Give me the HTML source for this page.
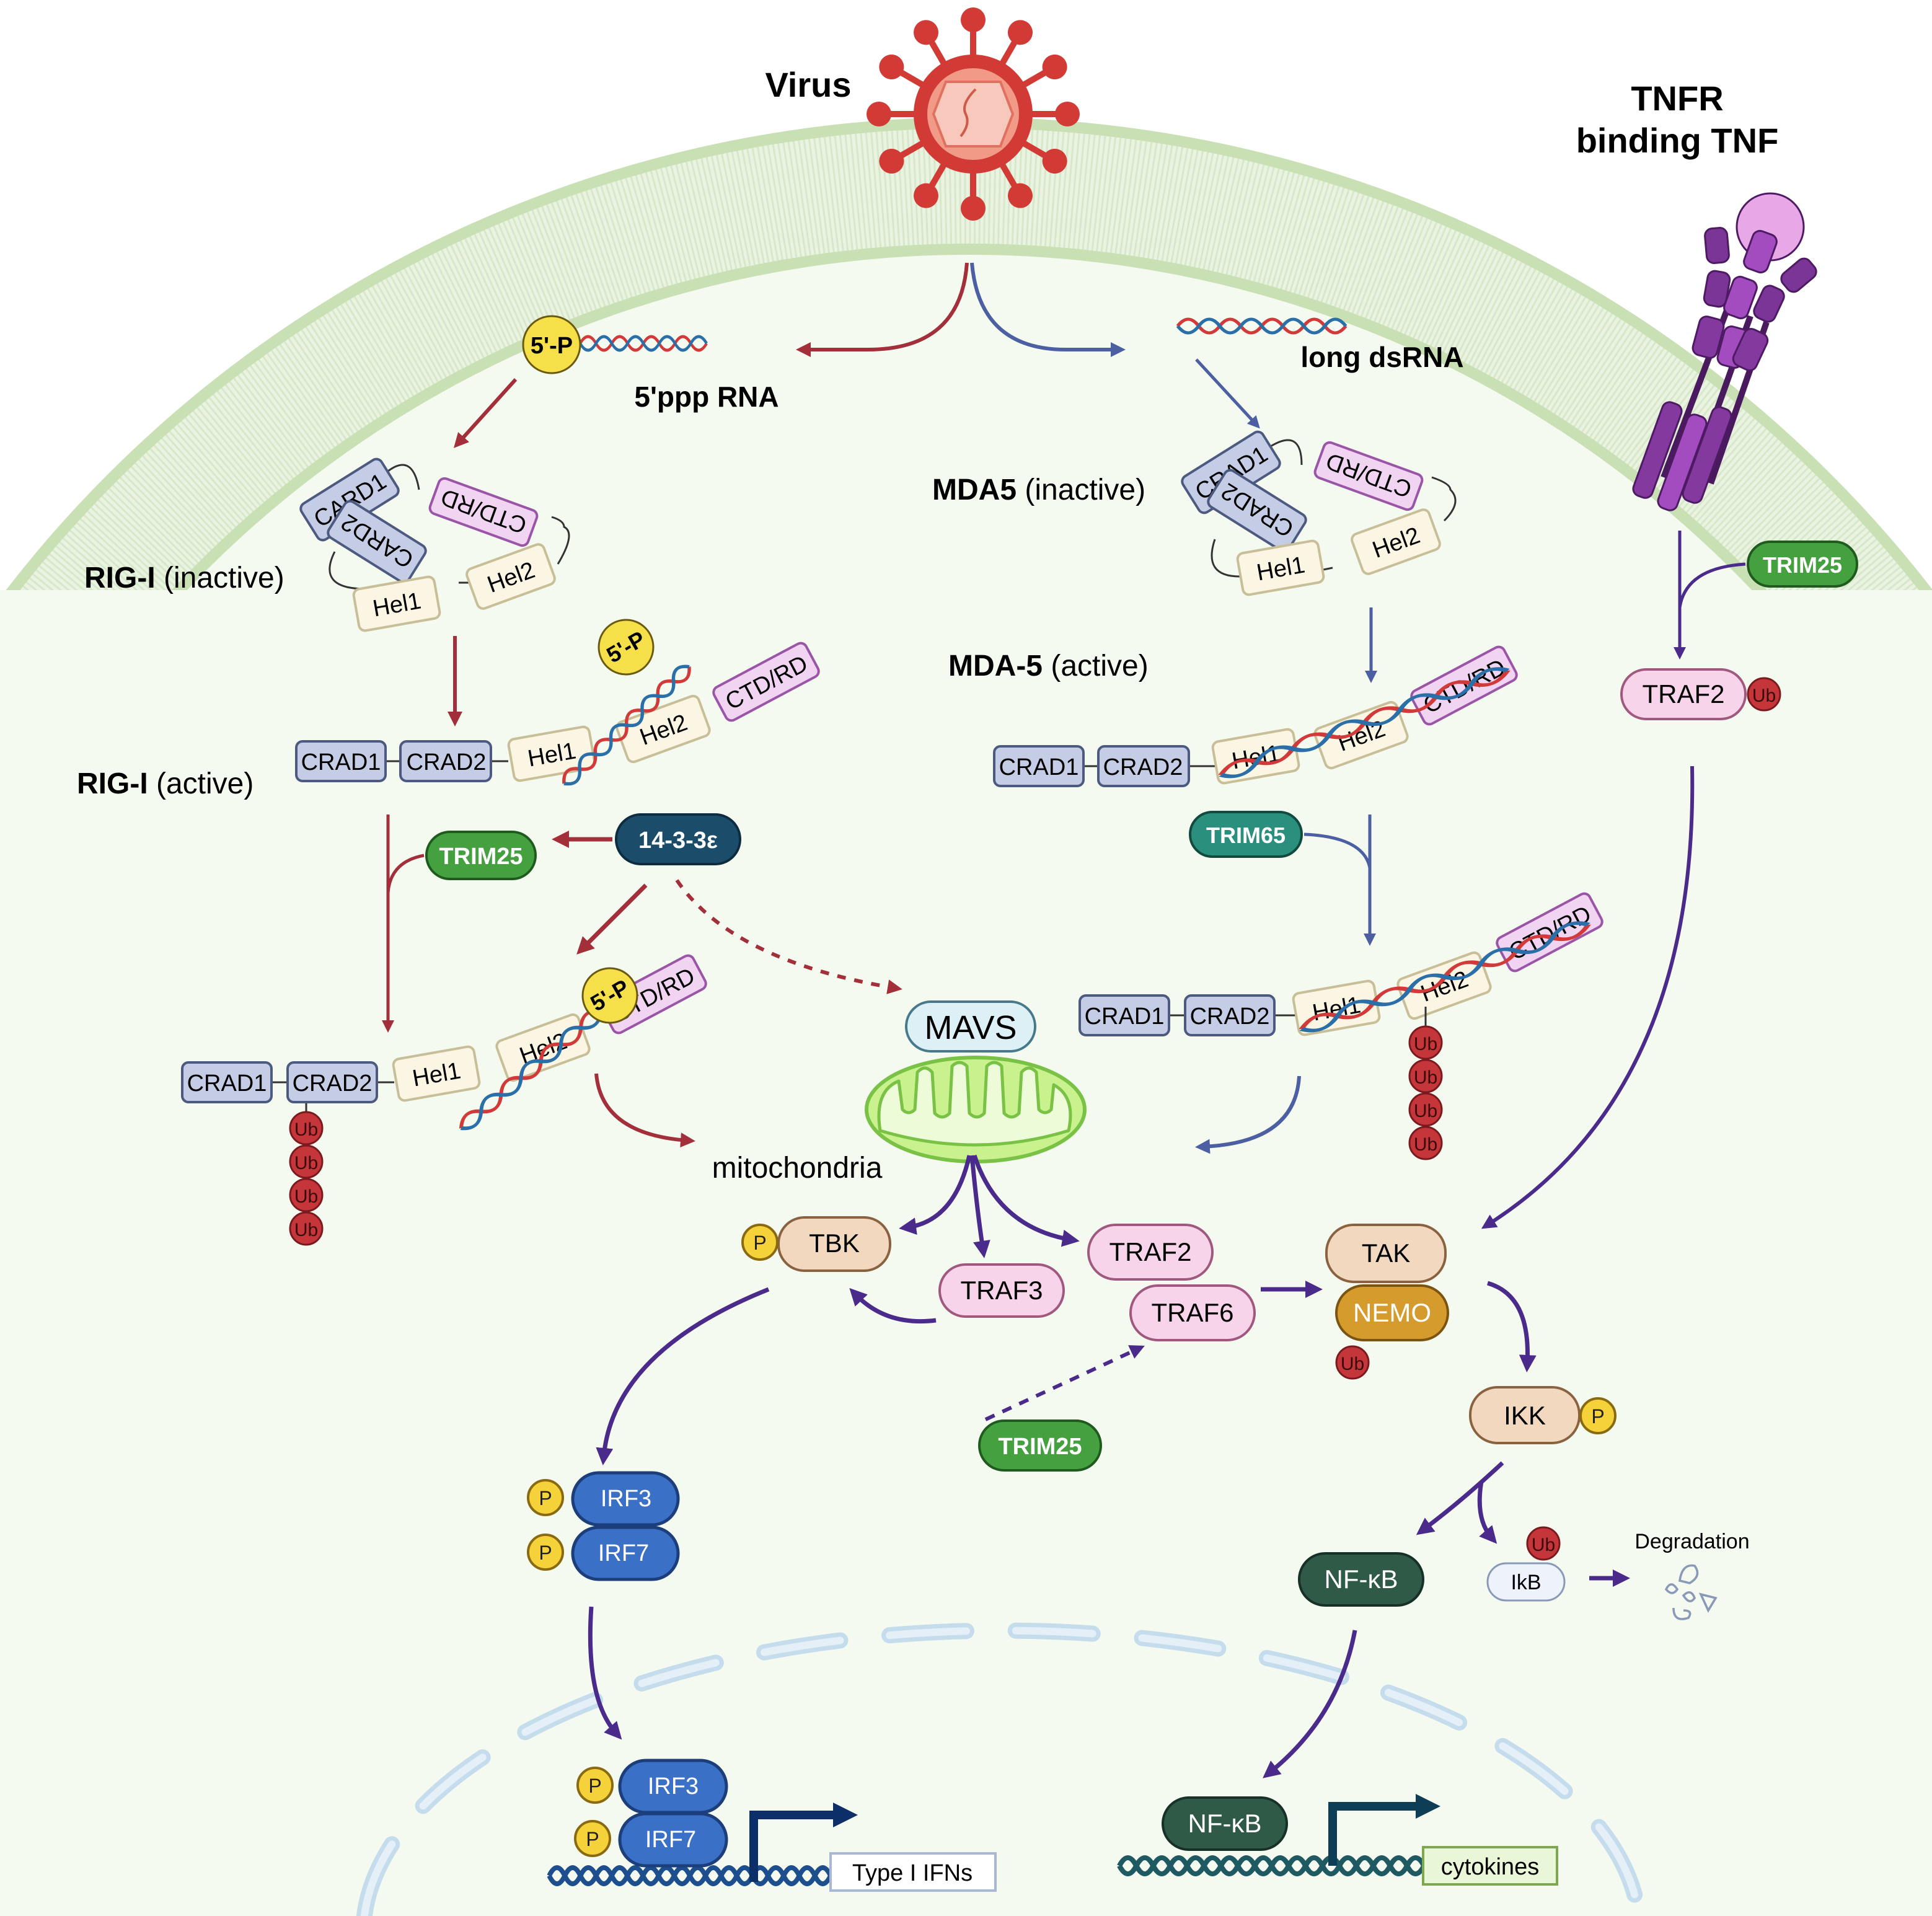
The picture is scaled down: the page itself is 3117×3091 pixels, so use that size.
<!DOCTYPE html>
<html><head><meta charset="utf-8"><style>
html,body{margin:0;padding:0;background:#fff;width:3117px;height:3091px;overflow:hidden;}
svg{display:block;}
text{font-family:"Liberation Sans",sans-serif;}
</style></head><body>
<svg width="3117" height="3091" viewBox="0 0 1558.5 1545.5" xmlns="http://www.w3.org/2000/svg">
<defs>
<marker id="ar" viewBox="0 0 10 10" refX="5" refY="5" markerWidth="4" markerHeight="4" orient="auto"><path d="M0 0L10 5L0 10z" fill="#a32f3a"/></marker>
<marker id="ab" viewBox="0 0 10 10" refX="5" refY="5" markerWidth="4" markerHeight="4" orient="auto"><path d="M0 0L10 5L0 10z" fill="#4c5fa3"/></marker>
<marker id="ap" viewBox="0 0 10 10" refX="5" refY="5" markerWidth="4" markerHeight="4" orient="auto"><path d="M0 0L10 5L0 10z" fill="#4a2b8c"/></marker>
<g id="hx">
<path d="M0 0q7.5 -11 15 0t15 0t15 0t15 0t15 0t15 0t15 0t15 0" fill="none" stroke="#d23a3a" stroke-width="2.5"/>
<path d="M0 0q7.5 11 15 0t15 0t15 0t15 0t15 0t15 0t15 0t15 0" fill="none" stroke="#2a6fa8" stroke-width="2.5"/>
</g>
<g id="hxd">
<path d="M0 0q6.5 -13 13 0t13 0t13 0t13 0t13 0t13 0t13 0t13 0t13 0t13 0t13 0t13 0t13 0t13 0t13 0t13 0t13 0t13 0" fill="none" stroke="#1d4f8f" stroke-width="4"/>
<path d="M0 0q6.5 13 13 0t13 0t13 0t13 0t13 0t13 0t13 0t13 0t13 0t13 0t13 0t13 0t13 0t13 0t13 0t13 0t13 0t13 0" fill="none" stroke="#1d4f8f" stroke-width="4"/>
</g>
<g id="hxg">
<path d="M0 0q6.5 -13 13 0t13 0t13 0t13 0t13 0t13 0t13 0t13 0t13 0t13 0t13 0t13 0t13 0t13 0t13 0t13 0t13 0t13 0t13 0" fill="none" stroke="#1f5a62" stroke-width="4"/>
<path d="M0 0q6.5 13 13 0t13 0t13 0t13 0t13 0t13 0t13 0t13 0t13 0t13 0t13 0t13 0t13 0t13 0t13 0t13 0t13 0t13 0t13 0" fill="none" stroke="#1f5a62" stroke-width="4"/>
</g>
<g id="ub"><circle r="13" fill="#c4363a" stroke="#7a1a1e" stroke-width="1.5"/><text y="6" text-anchor="middle" font-size="15" fill="#3a0a0a">Ub</text></g>
<g id="pp"><circle r="14" fill="#f6d23a" stroke="#8a6a10" stroke-width="2"/><text y="6" text-anchor="middle" font-size="16" fill="#222">P</text></g>
<clipPath id="cl"><rect x="0" y="0" width="1558.5" height="1545.5"/></clipPath>
<clipPath id="mem"><rect x="0" y="0" width="1558.5" height="476"/></clipPath>
</defs>
<g clip-path="url(#cl)">
<!-- cell -->
<g clip-path="url(#mem)"><circle cx="782" cy="1077" r="978" fill="#f4faf0"/></g>
<rect x="0" y="476" width="1558.5" height="1069.5" fill="#f4faf0"/>
<g clip-path="url(#mem)">
<circle cx="782" cy="1077" r="927" fill="none" stroke="#eaf3e2" stroke-width="108"/>
<circle cx="782" cy="1077" r="927" fill="none" stroke="#d6e8c8" stroke-width="96" stroke-dasharray="1.5 2.5"/>
<circle cx="782" cy="1077" r="978" fill="none" stroke="#c9e0b5" stroke-width="9"/>
<circle cx="782" cy="1077" r="876" fill="none" stroke="#c9e0b5" stroke-width="9"/>
</g>

<!-- nucleus -->
<path d="M294 1545 A515 245 0 0 1 1322 1545" fill="none" stroke="#c4dcec" stroke-width="13" stroke-linecap="round" stroke-dasharray="62 40"/>
<path d="M294 1545 A515 245 0 0 1 1322 1545" fill="none" stroke="#e4eff7" stroke-width="6" stroke-linecap="round" stroke-dasharray="62 40"/>

<!-- virus -->
<g transform="translate(785,92)" stroke="#d23a36" stroke-width="5" fill="#d23a36">
<g id="sp"><line x1="0" y1="0" x2="0" y2="-72"/><circle cy="-76" r="10" stroke="none"/></g>
<use href="#sp" transform="rotate(30)"/><use href="#sp" transform="rotate(60)"/><use href="#sp" transform="rotate(90)"/><use href="#sp" transform="rotate(120)"/><use href="#sp" transform="rotate(150)"/><use href="#sp" transform="rotate(180)"/><use href="#sp" transform="rotate(210)"/><use href="#sp" transform="rotate(240)"/><use href="#sp" transform="rotate(270)"/><use href="#sp" transform="rotate(300)"/><use href="#sp" transform="rotate(330)"/>
<circle r="48" stroke="none"/>
<circle r="37" fill="#f19a88" stroke="none"/>
<polygon points="-22,-26 22,-26 32,0 22,26 -22,26 -32,0" fill="#f8c8bc" stroke="#e07060" stroke-width="2"/>
<path d="M-10 18 q8 -10 4 -18 t8 -20" fill="none" stroke="#d05a4a" stroke-width="2"/>
</g>
<text x="652" y="78" text-anchor="middle" font-size="28" font-weight="bold">Virus</text>
<text x="1353" y="89" text-anchor="middle" font-size="28" font-weight="bold">TNFR</text>
<text x="1353" y="123" text-anchor="middle" font-size="28" font-weight="bold">binding TNF</text>

<!-- TNFR receptor -->
<g stroke="#4d1a63" stroke-width="1.5">
<line x1="1342" y1="385" x2="1395" y2="245" stroke="#4a1a5e" stroke-width="5"/>
<line x1="1362" y1="395" x2="1412" y2="255" stroke="#4a1a5e" stroke-width="5"/>
<line x1="1380" y1="390" x2="1425" y2="260" stroke="#4a1a5e" stroke-width="5"/>
<rect x="-8" y="-40" width="16" height="80" rx="6" fill="#84399f" transform="translate(1337,363) rotate(20)"/>
<rect x="-8" y="-40" width="16" height="80" rx="6" fill="#a24cc0" transform="translate(1357,373) rotate(20)"/>
<rect x="-8" y="-40" width="16" height="80" rx="6" fill="#84399f" transform="translate(1377,367) rotate(20)"/>
<circle cx="1428" cy="183" r="27" fill="#e8a7e6"/>
<rect x="-9" y="-14" width="18" height="28" rx="6" fill="#7a3596" transform="translate(1385,198) rotate(-5)"/>
<rect x="-10" y="-16" width="20" height="32" rx="6" fill="#a24cc0" transform="translate(1420,203) rotate(20)"/>
<rect x="-9" y="-14" width="18" height="28" rx="6" fill="#7a3596" transform="translate(1385,233) rotate(10)"/>
<rect x="-10" y="-16" width="20" height="32" rx="6" fill="#a24cc0" transform="translate(1404,240) rotate(20)"/>
<rect x="-9" y="-14" width="18" height="28" rx="6" fill="#7a3596" transform="translate(1451,222) rotate(50)"/>
<rect x="-9" y="-14" width="18" height="28" rx="6" fill="#7a3596" transform="translate(1427,245) rotate(25)"/>
<rect x="-10" y="-16" width="20" height="32" rx="6" fill="#84399f" transform="translate(1378,272) rotate(15)"/>
<rect x="-10" y="-16" width="20" height="32" rx="6" fill="#a24cc0" transform="translate(1398,280) rotate(15)"/>
<rect x="-10" y="-16" width="20" height="32" rx="6" fill="#84399f" transform="translate(1412,282) rotate(25)"/>
</g>

<!-- top arrows -->
<path d="M780 212 Q775 282 700 282 L648 282" fill="none" stroke="#a32f3a" stroke-width="3" marker-end="url(#ar)"/>
<path d="M784 212 Q790 282 860 282 L902 282" fill="none" stroke="#4c5fa3" stroke-width="3" marker-end="url(#ab)"/>

<use href="#hx" transform="translate(468,277) scale(0.85,1)"/>
<circle cx="445" cy="278" r="23" fill="#f6e04a" stroke="#6a5a10" stroke-width="1.5"/>
<text x="445" y="285" text-anchor="middle" font-size="19" font-weight="bold">5'-P</text>
<text x="570" y="328" text-anchor="middle" font-size="23" font-weight="bold">5'ppp RNA</text>
<use href="#hx" transform="translate(950,263) scale(1.13,1)"/>
<text x="1115" y="296" text-anchor="middle" font-size="23" font-weight="bold">long dsRNA</text>
<line x1="416" y1="306" x2="370" y2="357" stroke="#a32f3a" stroke-width="3" marker-end="url(#ar)"/>
<line x1="965" y1="290" x2="1013" y2="342" stroke="#4c5fa3" stroke-width="2.5" marker-end="url(#ab)"/>

<!-- RIG-I inactive -->
<g font-size="19" text-anchor="middle">
<path d="M313 380 q20 -15 25 15 M295 475 q-40 0 -25 -30 M370 470 l8 0 M450 455 q15 -25 5 -30 q0 -5 -10 -8" fill="none" stroke="#333" stroke-width="1.5"/>
<g transform="translate(282,403) rotate(-32)"><rect x="-38" y="-17" width="76" height="34" rx="5" fill="#c5cde6" stroke="#4d5a80" stroke-width="2"/><text y="7">CARD1</text></g>
<g transform="translate(304,437) rotate(212)"><rect x="-38" y="-17" width="76" height="34" rx="5" fill="#c5cde6" stroke="#4d5a80" stroke-width="2"/><text y="7">CARD2</text></g>
<g transform="translate(390,413) rotate(200)"><rect x="-42" y="-15" width="84" height="30" rx="5" fill="#f0d4f2" stroke="#9a55a6" stroke-width="2"/><text y="7">CTD/RD</text></g>
<g transform="translate(320,487) rotate(-10)"><rect x="-33" y="-17" width="66" height="34" rx="5" fill="#fbf5e4" stroke="#c8bf98" stroke-width="2"/><text y="7">Hel1</text></g>
<g transform="translate(412,465) rotate(-20)"><rect x="-33" y="-17" width="66" height="34" rx="5" fill="#fbf5e4" stroke="#c8bf98" stroke-width="2"/><text y="7">Hel2</text></g>
</g>
<text x="68" y="474" font-size="24"><tspan font-weight="bold">RIG-I</tspan> (inactive)</text>

<!-- MDA5 inactive -->
<g font-size="19" text-anchor="middle">
<path d="M1025 360 q25 -15 25 15 M1000 465 q-30 0 -20 -30 M1065 460 l10 -2 M1165 420 q15 -15 5 -25 q0 -5 -15 -10" fill="none" stroke="#333" stroke-width="1.5"/>
<g transform="translate(993,381) rotate(-32)"><rect x="-38" y="-17" width="76" height="34" rx="5" fill="#c5cde6" stroke="#4d5a80" stroke-width="2"/><text y="7">CRAD1</text></g>
<g transform="translate(1014,412) rotate(212)"><rect x="-38" y="-17" width="76" height="34" rx="5" fill="#c5cde6" stroke="#4d5a80" stroke-width="2"/><text y="7">CRAD2</text></g>
<g transform="translate(1104,384) rotate(200)"><rect x="-42" y="-15" width="84" height="30" rx="5" fill="#f0d4f2" stroke="#9a55a6" stroke-width="2"/><text y="7">CTD/RD</text></g>
<g transform="translate(1033,458) rotate(-10)"><rect x="-33" y="-17" width="66" height="34" rx="5" fill="#fbf5e4" stroke="#c8bf98" stroke-width="2"/><text y="7">Hel1</text></g>
<g transform="translate(1126,437) rotate(-20)"><rect x="-33" y="-17" width="66" height="34" rx="5" fill="#fbf5e4" stroke="#c8bf98" stroke-width="2"/><text y="7">Hel2</text></g>
</g>
<text x="752" y="403" font-size="24"><tspan font-weight="bold">MDA5</tspan> (inactive)</text>

<line x1="367" y1="513" x2="367" y2="580" stroke="#a32f3a" stroke-width="3" marker-end="url(#ar)"/>
<line x1="1106" y1="490" x2="1106" y2="546" stroke="#4c5fa3" stroke-width="2.5" marker-end="url(#ab)"/>

<!-- RIG-I active -->
<text x="62" y="640" font-size="24"><tspan font-weight="bold">RIG-I</tspan> (active)</text>
<g font-size="19" text-anchor="middle">
<line x1="310" y1="614" x2="325" y2="614" stroke="#333" stroke-width="1.5"/>
<line x1="396" y1="614" x2="410" y2="614" stroke="#333" stroke-width="1.5"/>
<rect x="239" y="598" width="72" height="32" rx="5" fill="#c5cde6" stroke="#4d5a80" stroke-width="2"/><text x="275" y="621">CRAD1</text>
<rect x="323" y="598" width="73" height="32" rx="5" fill="#c5cde6" stroke="#4d5a80" stroke-width="2"/><text x="360" y="621">CRAD2</text>
<g transform="translate(445,608) rotate(-10)"><rect x="-33" y="-17" width="66" height="34" rx="5" fill="#fbf5e4" stroke="#c8bf98" stroke-width="2"/><text y="7">Hel1</text></g>
<g transform="translate(535,588) rotate(-20)"><rect x="-35" y="-17" width="70" height="34" rx="5" fill="#fbf5e4" stroke="#c8bf98" stroke-width="2"/><text y="7">Hel2</text></g>
<g transform="translate(618,550) rotate(-28)"><rect x="-42" y="-15" width="84" height="30" rx="5" fill="#f0d4f2" stroke="#9a55a6" stroke-width="2"/><text y="7">CTD/RD</text></g>
<use href="#hx" transform="translate(455,632) rotate(-43) scale(1.15,1)"/>
<g transform="translate(505,522) rotate(-30)"><circle r="22" fill="#f6e04a" stroke="#6a5a10" stroke-width="1.5"/><text y="6" font-size="18" font-weight="bold">5'-P</text></g>
</g>

<!-- MDA5 active -->
<text x="765" y="545" font-size="24"><tspan font-weight="bold">MDA-5</tspan> (active)</text>
<g font-size="19" text-anchor="middle">
<line x1="874" y1="618" x2="888" y2="618" stroke="#333" stroke-width="1.5"/>
<line x1="959" y1="618" x2="980" y2="618" stroke="#333" stroke-width="1.5"/>
<rect x="802" y="602" width="72" height="32" rx="5" fill="#c5cde6" stroke="#4d5a80" stroke-width="2"/><text x="838" y="625">CRAD1</text>
<rect x="886" y="602" width="73" height="32" rx="5" fill="#c5cde6" stroke="#4d5a80" stroke-width="2"/><text x="922" y="625">CRAD2</text>
<g transform="translate(1013,610) rotate(-10)"><rect x="-33" y="-17" width="66" height="34" rx="5" fill="#fbf5e4" stroke="#c8bf98" stroke-width="2"/><text y="7">Hel1</text></g>
<g transform="translate(1098,593) rotate(-20)"><rect x="-35" y="-17" width="70" height="34" rx="5" fill="#fbf5e4" stroke="#c8bf98" stroke-width="2"/><text y="7">Hel2</text></g>
<g transform="translate(1181,553) rotate(-28)"><rect x="-42" y="-15" width="84" height="30" rx="5" fill="#f0d4f2" stroke="#9a55a6" stroke-width="2"/><text y="7">CTD/RD</text></g>
<use href="#hx" transform="translate(985,625) rotate(-20) scale(2.05,1)"/>
</g>

<!-- 14-3-3 / TRIM25 -->
<rect x="497" y="657" width="100" height="40" rx="20" fill="#1b4d6b" stroke="#0d2c40" stroke-width="2"/>
<text x="547" y="684" text-anchor="middle" font-size="19" font-weight="bold" fill="#fff">14-3-3ε</text>
<rect x="344" y="671" width="88" height="38" rx="19" fill="#45a040" stroke="#1f5a1e" stroke-width="2"/>
<text x="388" y="697" text-anchor="middle" font-size="19" font-weight="bold" fill="#fff">TRIM25</text>
<line x1="494" y1="677" x2="452" y2="677" stroke="#a32f3a" stroke-width="3.5" marker-end="url(#ar)"/>
<line x1="313" y1="657" x2="313" y2="828" stroke="#a32f3a" stroke-width="2.5" marker-end="url(#ar)"/>
<path d="M342 690 Q315 695 313 720" fill="none" stroke="#a32f3a" stroke-width="2.5"/>
<line x1="521" y1="714" x2="470" y2="765" stroke="#a32f3a" stroke-width="3.5" marker-end="url(#ar)"/>
<path d="M546 710 Q590 775 722 797" fill="none" stroke="#a32f3a" stroke-width="3" stroke-dasharray="7 7" marker-end="url(#ar)"/>

<!-- RIG-I Ub -->
<g font-size="19" text-anchor="middle">
<line x1="219" y1="873" x2="233" y2="873" stroke="#333" stroke-width="1.5"/>
<line x1="304" y1="873" x2="318" y2="873" stroke="#333" stroke-width="1.5"/>
<line x1="247" y1="889" x2="247" y2="900" stroke="#333" stroke-width="1.5"/>
<rect x="147" y="857" width="72" height="32" rx="5" fill="#c5cde6" stroke="#4d5a80" stroke-width="2"/><text x="183" y="880">CRAD1</text>
<rect x="232" y="857" width="72" height="32" rx="5" fill="#c5cde6" stroke="#4d5a80" stroke-width="2"/><text x="268" y="880">CRAD2</text>
<g transform="translate(352,866) rotate(-10)"><rect x="-33" y="-17" width="66" height="34" rx="5" fill="#fbf5e4" stroke="#c8bf98" stroke-width="2"/><text y="7">Hel1</text></g>
<g transform="translate(438,845) rotate(-20)"><rect x="-35" y="-17" width="70" height="34" rx="5" fill="#fbf5e4" stroke="#c8bf98" stroke-width="2"/><text y="7">Hel2</text></g>
<g transform="translate(527,802) rotate(-28)"><rect x="-42" y="-15" width="84" height="30" rx="5" fill="#f0d4f2" stroke="#9a55a6" stroke-width="2"/><text y="7">CTD/RD</text></g>
<use href="#hx" transform="translate(372,910) rotate(-40) scale(1.4,1)"/>
<g transform="translate(492,803) rotate(-30)"><circle r="22" fill="#f6e04a" stroke="#6a5a10" stroke-width="1.5"/><text y="6" font-size="18" font-weight="bold">5'-P</text></g>
</g>
<use href="#ub" x="247" y="910"/><use href="#ub" x="247" y="937"/><use href="#ub" x="247" y="964"/><use href="#ub" x="247" y="991"/>
<path d="M481 866 Q485 915 555 920" fill="none" stroke="#a32f3a" stroke-width="3" marker-end="url(#ar)"/>

<!-- MAVS / mito -->
<rect x="731" y="808" width="104" height="40" rx="20" fill="#dcf0f6" stroke="#47798a" stroke-width="2"/>
<text x="783" y="838" text-anchor="middle" font-size="27">MAVS</text>
<ellipse cx="787" cy="895" rx="88" ry="42" fill="#c9f28e" stroke="#79c245" stroke-width="3"/>
<path d="M710 912 Q705 880 725 872 L728 895 Q733 900 738 895 L740 865 Q746 858 752 865 L754 898 Q760 904 766 898 L768 860 Q774 854 780 860 L782 898 Q788 904 794 898 L796 860 Q802 854 808 860 L810 898 Q816 904 822 898 L824 865 Q830 858 836 865 L838 895 Q843 900 848 895 L850 875 Q868 885 862 912 Q787 935 710 912z" fill="#eefbd8" stroke="#79c245" stroke-width="2.5" stroke-linejoin="round"/>
<text x="643" y="950" text-anchor="middle" font-size="24">mitochondria</text>

<!-- MDA5 Ub -->
<rect x="960" y="655" width="90" height="36" rx="18" fill="#2b8f7e" stroke="#134a40" stroke-width="2"/>
<text x="1005" y="680" text-anchor="middle" font-size="18" font-weight="bold" fill="#fff">TRIM65</text>
<path d="M1052 673 Q1100 675 1105 700" fill="none" stroke="#4c5fa3" stroke-width="2.5"/>
<line x1="1105" y1="657" x2="1105" y2="758" stroke="#4c5fa3" stroke-width="2.5" marker-end="url(#ab)"/>
<g font-size="19" text-anchor="middle">
<line x1="943" y1="819" x2="957" y2="819" stroke="#333" stroke-width="1.5"/>
<line x1="1028" y1="819" x2="1048" y2="819" stroke="#333" stroke-width="1.5"/>
<rect x="871" y="803" width="72" height="32" rx="5" fill="#c5cde6" stroke="#4d5a80" stroke-width="2"/><text x="907" y="826">CRAD1</text>
<rect x="956" y="803" width="72" height="32" rx="5" fill="#c5cde6" stroke="#4d5a80" stroke-width="2"/><text x="992" y="826">CRAD2</text>
<g transform="translate(1078,813) rotate(-10)"><rect x="-33" y="-17" width="66" height="34" rx="5" fill="#fbf5e4" stroke="#c8bf98" stroke-width="2"/><text y="7">Hel1</text></g>
<g transform="translate(1165,795) rotate(-20)"><rect x="-35" y="-17" width="70" height="34" rx="5" fill="#fbf5e4" stroke="#c8bf98" stroke-width="2"/><text y="7">Hel2</text></g>
<g transform="translate(1250,752) rotate(-28)"><rect x="-42" y="-15" width="84" height="30" rx="5" fill="#f0d4f2" stroke="#9a55a6" stroke-width="2"/><text y="7">CTD/RD</text></g>
<use href="#hx" transform="translate(1050,830) rotate(-20) scale(2.05,1)"/>
</g>
<line x1="1150" y1="812" x2="1150" y2="830" stroke="#333" stroke-width="1.5"/>
<use href="#ub" x="1150" y="841"/><use href="#ub" x="1150" y="868"/><use href="#ub" x="1150" y="895"/><use href="#ub" x="1150" y="922"/>
<path d="M1048 868 Q1045 922 970 925" fill="none" stroke="#4c5fa3" stroke-width="3" marker-end="url(#ab)"/>

<!-- TNFR pathway -->
<rect x="1410" y="437" width="88" height="36" rx="18" fill="#45a040" stroke="#1f5a1e" stroke-width="2"/>
<text x="1454" y="462" text-anchor="middle" font-size="18" font-weight="bold" fill="#fff">TRIM25</text>
<line x1="1355" y1="428" x2="1355" y2="527" stroke="#4a2b8c" stroke-width="2.5" marker-end="url(#ap)"/>
<path d="M1408 455 Q1360 458 1355 490" fill="none" stroke="#4a2b8c" stroke-width="2.5"/>
<rect x="1308" y="540" width="100" height="40" rx="20" fill="#f7d4ea" stroke="#a0587e" stroke-width="2"/>
<text x="1358" y="567" text-anchor="middle" font-size="21">TRAF2</text>
<use href="#ub" x="1423" y="560"/>
<path d="M1365 618 Q1370 880 1200 988" fill="none" stroke="#4a2b8c" stroke-width="3" marker-end="url(#ap)"/>

<!-- mito outputs -->
<g fill="none" stroke="#4a2b8c" stroke-width="3.5">
<path d="M782 932 Q770 985 732 990" marker-end="url(#ap)"/>
<path d="M784 932 Q788 975 793 1008" marker-end="url(#ap)"/>
<path d="M786 932 Q805 990 864 1000" marker-end="url(#ap)"/>
<path d="M755 1065 Q715 1070 690 1044" marker-end="url(#ap)"/>
<line x1="1017" y1="1040" x2="1060" y2="1040" marker-end="url(#ap)"/>
<path d="M795 1145 L918 1088" stroke-dasharray="8 7" stroke-width="3" marker-end="url(#ap)"/>
<path d="M1200 1035 Q1235 1045 1232 1100" marker-end="url(#ap)"/>
<path d="M1212 1180 Q1180 1210 1148 1234" marker-end="url(#ap)"/>
<path d="M1195 1195 Q1190 1225 1203 1240" marker-end="url(#ap)"/>
<line x1="1282" y1="1273" x2="1308" y2="1273" marker-end="url(#ap)"/>
<path d="M620 1040 Q495 1090 487 1175" marker-end="url(#ap)"/>
<path d="M477 1296 Q472 1370 497 1398" marker-end="url(#ap)"/>
<path d="M1093 1315 Q1080 1385 1024 1430" marker-end="url(#ap)"/>
</g>
<g text-anchor="middle" font-size="21">
<rect x="628" y="982" width="90" height="43" rx="21" fill="#f2d8bf" stroke="#8b6240" stroke-width="2"/><text x="673" y="1010">TBK</text>
<rect x="758" y="1020" width="100" height="42" rx="21" fill="#f7d4ea" stroke="#a0587e" stroke-width="2"/><text x="808" y="1048">TRAF3</text>
<rect x="878" y="988" width="100" height="44" rx="22" fill="#f7d4ea" stroke="#a0587e" stroke-width="2"/><text x="928" y="1017">TRAF2</text>
<rect x="912" y="1037" width="100" height="44" rx="22" fill="#f7d4ea" stroke="#a0587e" stroke-width="2"/><text x="962" y="1066">TRAF6</text>
<rect x="1070" y="988" width="96" height="46" rx="22" fill="#f2d8bf" stroke="#8b6240" stroke-width="2"/><text x="1118" y="1018">TAK</text>
<rect x="1078" y="1037" width="90" height="44" rx="22" fill="#d59b2c" stroke="#7a5410" stroke-width="2"/><text x="1123" y="1066" fill="#fff">NEMO</text>
<rect x="1186" y="1119" width="88" height="45" rx="22" fill="#f2d8bf" stroke="#8b6240" stroke-width="2"/><text x="1230" y="1149">IKK</text>
<rect x="790" y="1146" width="98" height="40" rx="20" fill="#45a040" stroke="#1f5a1e" stroke-width="2"/><text x="839" y="1173" font-size="19" font-weight="bold" fill="#fff">TRIM25</text>
<rect x="1048" y="1253" width="100" height="42" rx="21" fill="#2f5a48" stroke="#173028" stroke-width="2"/><text x="1098" y="1281" fill="#fff">NF-κB</text>
<rect x="1200" y="1261" width="62" height="30" rx="15" fill="#eef2fb" stroke="#8a99b8" stroke-width="1.5"/><text x="1231" y="1282" font-size="17">IkB</text>
<text x="1365" y="1249" font-size="17">Degradation</text>
</g>
<use href="#pp" x="613" y="1002"/>
<use href="#ub" x="1091" y="1099"/>
<use href="#pp" x="1289" y="1142"/>
<use href="#ub" x="1245" y="1245"/>
<g fill="none" stroke="#8a99b8" stroke-width="1.8">
<path d="M1355 1275 q2 -14 12 -12 q6 8 -4 14z"/><path d="M1344 1282 q4 -8 9 0 q-4 6 -9 0z"/><path d="M1358 1287 q6 -6 9 2 q-4 6 -9 -2z"/><path d="M1372 1286 l12 3 l-6 10z"/><path d="M1350 1297 q0 12 12 8 q4 -6 -4 -6"/>
</g>

<!-- IRF -->
<g text-anchor="middle" font-size="19" fill="#fff">
<rect x="462" y="1188" width="85" height="42" rx="21" fill="#3a70c6" stroke="#1c3e7a" stroke-width="2.5"/><text x="505" y="1215" fill="#fff">IRF3</text>
<rect x="462" y="1232" width="85" height="42" rx="21" fill="#3a70c6" stroke="#1c3e7a" stroke-width="2.5"/><text x="503" y="1259" fill="#fff">IRF7</text>
</g>
<use href="#pp" x="440" y="1208"/><use href="#pp" x="440" y="1252"/>

<!-- nucleus contents -->
<use href="#hxd" transform="translate(443,1513) scale(0.97,1)"/>
<path d="M608 1518 L608 1464 L675 1464" fill="none" stroke="#0c2f6a" stroke-width="7"/>
<path d="M672 1454 L692 1464 L672 1474z" fill="#0c2f6a"/>
<g text-anchor="middle" font-size="19">
<rect x="500" y="1420" width="86" height="42" rx="21" fill="#3a70c6" stroke="#1c3e7a" stroke-width="2.5"/><text x="543" y="1447" fill="#fff">IRF3</text>
<rect x="500" y="1463" width="86" height="42" rx="21" fill="#3a70c6" stroke="#1c3e7a" stroke-width="2.5"/><text x="541" y="1490" fill="#fff">IRF7</text>
<rect x="670" y="1495" width="133" height="30" fill="#fff" stroke="#a9b8d0" stroke-width="2"/><text x="736" y="1517">Type I IFNs</text>
</g>
<use href="#pp" x="480" y="1440"/><use href="#pp" x="478" y="1483"/>

<use href="#hxg" transform="translate(903,1505) scale(1.05,1)"/>
<path d="M1075 1505 L1075 1457 L1145 1457" fill="none" stroke="#0e3e56" stroke-width="7"/>
<path d="M1142 1447 L1162 1457 L1142 1467z" fill="#0e3e56"/>
<g text-anchor="middle" font-size="21">
<rect x="938" y="1450" width="100" height="42" rx="21" fill="#2f5a48" stroke="#173028" stroke-width="2"/><text x="988" y="1478" fill="#fff">NF-κB</text>
<rect x="1148" y="1490" width="108" height="30" fill="#eaf6d8" stroke="#7da850" stroke-width="2"/><text x="1202" y="1512" font-size="19">cytokines</text>
</g>
</g>
</svg>
</body></html>
